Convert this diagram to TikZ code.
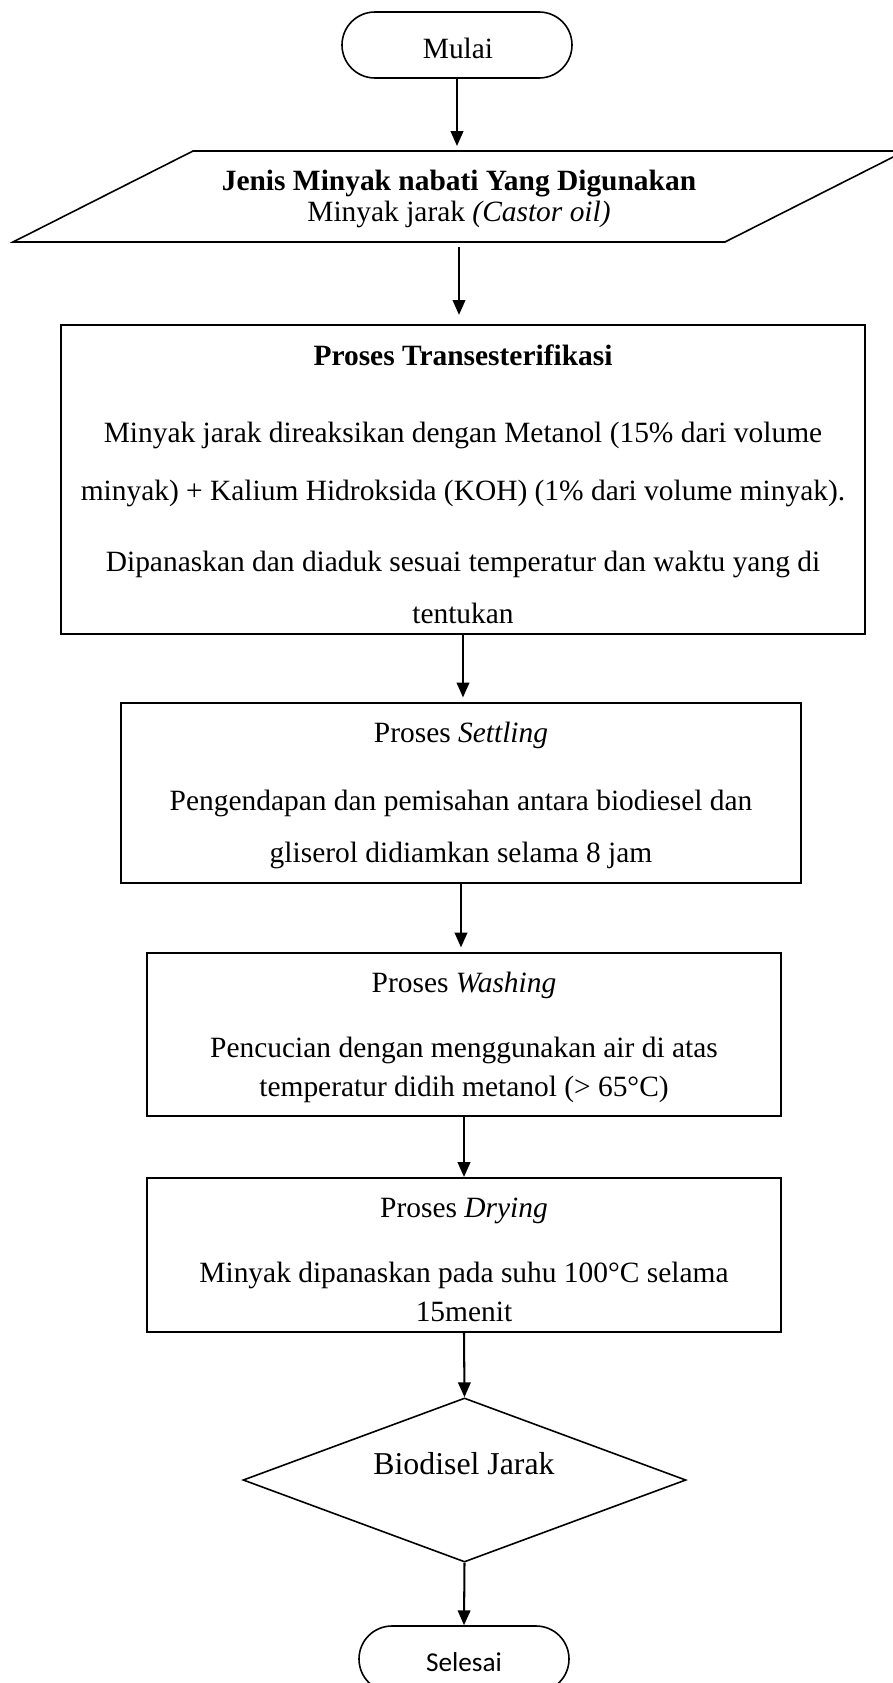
\documentclass[tikz,border=0pt]{standalone}
\usepackage{fontspec}
\setmainfont{Liberation Serif}
\newfontfamily\calibrifont{Carlito}
\usetikzlibrary{fit,shapes.geometric,arrows.meta}
\begin{document}
\begin{tikzpicture}[x=0.44pt,y=-0.44pt,
  procbox/.style={draw,line width=0.9pt,inner sep=0pt},
  termbox/.style={draw,line width=0.7pt,inner sep=0pt,rounded corners=14.5pt},
  txt/.style={inner sep=0pt,font=\fontsize{12.95}{15}\selectfont,text height=9.2pt,text depth=2.8pt,anchor=center},
  arr/.style={line width=0.9pt,-{Triangle[length=6.5pt,width=5.5pt]}}]
\useasboundingbox (0,0) rectangle (893,1683);
\clip (0,0) rectangle (893,1683);

% Start terminal
\node[termbox,fit={(342,12) (572,78)}] (mulai) {};
\node[txt] (tmulai) at (458,51) {Mulai};

% Input parallelogram
\node[inner sep=0pt,fit={(193,151) (725,242)}] (par) {};
\draw[line width=0.7pt] (13,242) -- (725,242) -- (905,151) -- (193,151) -- cycle;
\node[txt] (tjenis) at (459,183) {\bfseries Jenis Minyak nabati Yang Digunakan};
\node[txt] (tjarak) at (459,214) {Minyak jarak \textit{(Castor oil)}};

% Transesterifikasi
\node[procbox,fit={(61,325) (865,634)}] (trans) {};
\node[txt] (ttrans1) at (463,358) {\bfseries Proses Transesterifikasi};
\node[txt] (ttrans2) at (463,435) {Minyak jarak direaksikan dengan Metanol (15\% dari volume};
\node[txt] (ttrans3) at (463,493) {minyak) + Kalium Hidroksida (KOH) (1\% dari volume minyak).};
\node[txt] (ttrans4) at (463,564) {Dipanaskan dan diaduk sesuai temperatur dan waktu yang di};
\node[txt] (ttrans5) at (463,616) {tentukan};

% Settling
\node[procbox,fit={(121,703) (801,883)}] (settle) {};
\node[txt] (tset1) at (461,735) {Proses \textit{Settling}};
\node[txt] (tset2) at (461,803) {Pengendapan dan pemisahan antara biodiesel dan};
\node[txt] (tset3) at (461,855) {gliserol didiamkan selama 8 jam};

% Washing
\node[procbox,fit={(147,953) (781,1116)}] (wash) {};
\node[txt] (twash1) at (464,985) {Proses \textit{Washing}};
\node[txt] (twash2) at (464,1050) {Pencucian dengan menggunakan air di atas};
\node[txt] (twash3) at (464,1089) {temperatur didih metanol (> 65°C)};

% Drying
\node[procbox,fit={(147,1178) (781,1332)}] (dry) {};
\node[txt] (tdry1) at (464,1210) {Proses \textit{Drying}};
\node[txt] (tdry2) at (464,1275) {Minyak dipanaskan pada suhu 100°C selama};
\node[txt] (tdry3) at (464,1314) {15menit};

% Decision / product
\node[draw,line width=0.7pt,diamond,inner sep=0pt,minimum width=194.9pt,minimum height=72.2pt] (bio) at (464.5,1480) {};
\node[txt,font=\fontsize{14}{16}\selectfont,text height=9.9pt,text depth=3pt] (tbio) at (464,1467) {Biodisel Jarak};

% End terminal
\node[termbox,fit={(359,1626) (569,1692)}] (selesai) {};
\node[txt,font=\calibrifont\fontsize{12}{14}\selectfont,text height=8.5pt,text depth=2.6pt] (tsel) at (464,1665) {Selesai};

% Connectors
\draw[arr,shorten >=2pt] (mulai.south) -- (mulai.south |- par.north);
\draw[arr,shorten <=2pt,shorten >=4pt] (par.south) -- (par.south |- trans.north);
\draw[arr,shorten >=2pt] (trans.south) -- (trans.south |- settle.north);
\draw[arr,shorten >=2pt] (settle.south) -- (settle.south |- wash.north);
\draw[arr] (wash.south) -- (wash.south |- dry.north);
\draw[arr] (dry.south) -- (bio.north);
\draw[arr] (bio.south) -- (selesai.north);
\end{tikzpicture}
\end{document}
